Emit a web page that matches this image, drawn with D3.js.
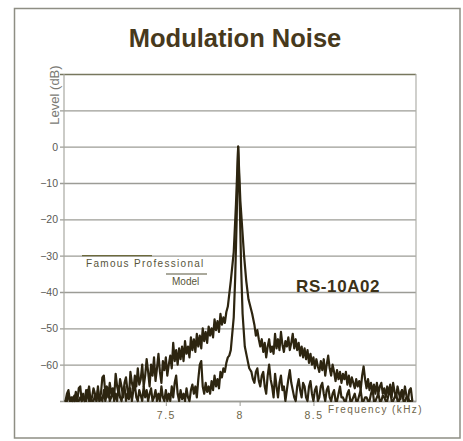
<!DOCTYPE html>
<html>
<head>
<meta charset="utf-8">
<script src="https://cdn.jsdelivr.net/npm/d3@7"></script>
<style>
  html, body { margin: 0; padding: 0; background: #ffffff; }
  svg { display: block; font-family: "Liberation Sans", Arial, Helvetica, sans-serif; }
</style>
</head>
<body>
<svg id="chart" width="463" height="441"></svg>
<script>
// Spectrum of an 8 kHz tone: level (dB) against frequency (kHz)
const gridLevels = [20, 10, 0, -10, -20, -30, -40, -50, -60, -70];
const labeledLevels = [0, -10, -20, -30, -40, -50, -60];
const freqTicks = [7.5, 8, 8.5];
const freqTickLabels = ["7.5", "8", "8.5"];

// analyser sweep: noise bins are 0.01 kHz apart
const binWidth = 0.01;

// Famous Professional Model
const famousLowStart = 6.82;
const famousLow = [
  -70, -68, -67, -70, -69, -70, -68.5, -70, -70, -66.5,
  -66, -70, -69, -70, -67, -68, -66, -70, -69, -66.5,
  -68, -70, -67, -70, -68, -63.5, -63, -68, -66, -69,
  -65, -68, -66.5, -69, -62.5, -66, -68, -64, -66, -69,
  -65, -63.5, -67, -69, -62, -65, -67, -63, -66, -61,
  -65.5, -64, -60, -66, -63, -58.5, -62, -66, -60, -63,
  -58, -64.5, -61, -57, -62, -65, -59, -61.5, -58, -63,
  -60, -57.5, -61, -54, -59, -56, -60, -55.5, -58.5, -55,
  -59, -53.5, -57, -55, -58, -52.5, -56, -53, -56.5, -51.5,
  -55, -52, -55.5, -50, -53.5, -51, -54, -49.5, -52, -50,
  -52.5, -47.5, -50.5, -48, -51, -46, -49, -47, -48.5, -45.5, -44
];
const famousPeakFreq = [7.94, 7.96, 7.975, 7.99, 8.005, 8.03, 8.045, 8.06, 8.085, 8.10, 8.11, 8.12, 8.13];
const famousPeakLevel = [-37, -29, -16, 0, -15, -30, -37, -42, -46, -49, -52, -50.5, -53];
const famousHighStart = 8.14;
const famousHigh = [
  -55, -53, -56.5, -54, -58, -55, -53, -56.5, -55, -57,
  -51.5, -55.5, -53, -56, -51, -54.5, -56.5, -53.5, -55, -52.5,
  -56, -54, -51.5, -55.5, -53, -56, -54, -57.5, -55, -58,
  -55.5, -58.5, -56, -59.5, -57, -60, -58, -61, -58.5, -60.5,
  -62, -59, -61.5, -58.5, -63, -60, -57.5, -61, -63, -60,
  -62, -64.5, -61.5, -64, -62, -65, -62.5, -64, -62, -65.5,
  -63, -66, -63.5, -65, -66.5, -64, -66, -64.5, -67, -63,
  -60.5, -64, -66.5, -64, -67, -65, -67.5, -65.5, -68, -65,
  -68, -66, -65, -68, -66.5, -69, -66, -68, -65.5, -69,
  -65, -67.5, -69, -66, -68, -69.5, -67, -69, -66, -68.5,
  -70, -67, -66.5, -70
];

// RS-10A02
const rsLowStart = 6.82;
const rsLow = [
  -70, -70, -68, -70, -70, -69, -70, -67.5, -70, -70,
  -69, -70, -68, -70, -70, -67, -70, -69, -70, -70,
  -68.5, -70, -66, -70, -69, -70, -67, -70, -68, -66.5,
  -70, -69, -67, -70, -68, -70, -66, -69, -70, -67.5,
  -66, -70, -68, -69.5, -66.5, -70, -67, -65.5, -69, -70,
  -67, -68.5, -70, -66, -69, -67, -70, -68, -66.5, -70,
  -69, -67, -70, -68, -70, -66, -69, -70, -67, -70,
  -68, -70, -66, -69, -65, -63, -68, -70, -67, -69.5,
  -68, -70, -66.5, -69, -70, -67, -65.5, -68, -66, -69,
  -64, -60, -59, -66, -68, -65, -67.5, -66, -68, -64.5,
  -67, -63, -66, -64, -66.5, -62, -63.5, -61, -62, -59.5, -58, -57.5
];
const rsPeakFreq = [7.94, 7.96, 7.97, 7.98, 7.99, 8.00, 8.01, 8.02, 8.035, 8.05, 8.065];
const rsPeakLevel = [-56, -47, -36, -20, 0, -14, -33, -46, -55, -58, -61];
const rsHighStart = 8.08;
const rsHigh = [
  -62, -64, -65, -62, -61, -64.5, -66, -63, -62, -66,
  -68, -63, -60, -64, -66, -69, -62.5, -66, -69, -65,
  -63, -67, -66, -70, -67, -64, -61.5, -65, -67, -69,
  -70, -66, -64, -67, -69, -65, -66, -69, -70, -66,
  -64.5, -68, -70, -67, -66, -70, -69, -66, -65, -68,
  -70, -67, -66, -69, -70, -68, -67, -70, -70, -68,
  -66, -69, -69, -70, -70, -68, -67, -70, -70, -69,
  -68, -70, -70, -68.5, -67, -70, -70, -69, -69, -70,
  -70, -68, -66.5, -70, -70, -69, -68, -70, -70, -68.5,
  -69, -70, -70, -68, -67, -70, -70, -69, -68, -70,
  -70, -68, -67, -70, -70, -69, -69, -70, -70
];

// join the swept bins and the finely read peak into one trace
function buildTrace(lowStart, low, peakFreq, peakLevel, highStart, high) {
  const pts = [];
  low.forEach((v, i) => pts.push([lowStart + i * binWidth, v]));
  peakFreq.forEach((f, i) => pts.push([f, peakLevel[i]]));
  high.forEach((v, i) => pts.push([highStart + i * binWidth, v]));
  return pts;
}

const svg = d3.select("#chart");
const plot = { left: 64, right: 416, top: 74, bottom: 401 };

const x = d3.scaleLinear().domain([6.81, 9.195]).range([plot.left, plot.right]);
const y = d3.scaleLinear().domain([-70, 20]).range([plot.bottom, plot.top]);

// outer frame
svg.append("rect")
  .attr("x", 14.5).attr("y", 8.5)
  .attr("width", 445.5).attr("height", 429.5)
  .attr("fill", "none")
  .attr("stroke", "#8e8e84")
  .attr("stroke-width", 1.5);

// title
svg.append("text")
  .attr("x", 235).attr("y", 47)
  .attr("text-anchor", "middle")
  .attr("font-size", 25.5)
  .attr("font-weight", "bold")
  .attr("fill", "#47391c")
  .text("Modulation Noise");

// horizontal grid with level labels
const yAxis = d3.axisLeft(y)
  .tickValues(gridLevels)
  .tickSizeInner(-(plot.right - plot.left + 4))
  .tickSizeOuter(0)
  .tickPadding(2)
  .tickFormat(d => labeledLevels.includes(d) ? (d < 0 ? "\u2212" + (-d) : "0") : "");

const gy = svg.append("g")
  .attr("transform", `translate(${plot.left - 4},0)`)
  .call(yAxis);
gy.select(".domain").remove();
gy.selectAll(".tick line")
  .attr("stroke", d => d === 20 ? "#77775e" : "#9c9c96")
  .attr("stroke-width", 1.3);
gy.selectAll(".tick text")
  .attr("fill", "#5a5a55")
  .attr("font-size", 10.5);

// left and right edges of the plot
svg.append("line")
  .attr("x1", plot.left).attr("x2", plot.left)
  .attr("y1", plot.top).attr("y2", plot.bottom)
  .attr("stroke", "#a8a8a2").attr("stroke-width", 1.2);
svg.append("line")
  .attr("x1", plot.right).attr("x2", plot.right)
  .attr("y1", plot.top).attr("y2", plot.bottom)
  .attr("stroke", "#b0b0aa").attr("stroke-width", 1.2);

// frequency axis
const xAxis = d3.axisBottom(x)
  .tickValues(freqTicks)
  .tickSizeInner(5)
  .tickSizeOuter(0)
  .tickPadding(6)
  .tickFormat((d, i) => freqTickLabels[i]);
const gx = svg.append("g")
  .attr("transform", `translate(0,${plot.bottom})`)
  .call(xAxis);
gx.select(".domain")
  .attr("stroke", "#9c9c96").attr("stroke-width", 1.3);
gx.selectAll(".tick line").attr("stroke", "#9c9c96");
gx.selectAll(".tick text")
  .attr("fill", "#6e6448")
  .attr("font-size", 10.5)
  .attr("letter-spacing", 1.5);

// axis titles
svg.append("text")
  .attr("transform", "translate(59,95) rotate(-90)")
  .attr("text-anchor", "middle")
  .attr("font-size", 13)
  .attr("fill", "#7a7a74")
  .text("Level (dB)");

svg.append("text")
  .attr("x", 328).attr("y", 413)
  .attr("font-size", 10)
  .attr("letter-spacing", 1.4)
  .attr("fill", "#6e6448")
  .text("Frequency (kHz)");

// traces
const line = d3.line()
  .x(d => x(d[0]))
  .y(d => y(d[1]));

const famous = buildTrace(famousLowStart, famousLow, famousPeakFreq, famousPeakLevel, famousHighStart, famousHigh);
const rs = buildTrace(rsLowStart, rsLow, rsPeakFreq, rsPeakLevel, rsHighStart, rsHigh);

const traces = svg.append("g").attr("fill", "none")
  .attr("stroke-linejoin", "round").attr("stroke-linecap", "round");
traces.append("path")
  .attr("d", line(rs))
  .attr("stroke", "#2d2510")
  .attr("stroke-width", 2.2);
traces.append("path")
  .attr("d", line(famous))
  .attr("stroke", "#2d2510")
  .attr("stroke-width", 2.2);

// series labels
svg.append("line")
  .attr("x1", 82).attr("x2", 152)
  .attr("y1", y(-30)).attr("y2", y(-30))
  .attr("stroke", "#6c6a3c").attr("stroke-width", 1.4);
svg.append("text")
  .attr("x", 86).attr("y", 267)
  .attr("font-size", 10)
  .attr("letter-spacing", 1.3)
  .attr("fill", "#57543a")
  .text("Famous Professional");
svg.append("line")
  .attr("x1", 166).attr("x2", 207)
  .attr("y1", 274).attr("y2", 274)
  .attr("stroke", "#57543a").attr("stroke-width", 1.2);
svg.append("text")
  .attr("x", 172).attr("y", 285)
  .attr("font-size", 10)
  .attr("fill", "#57543a")
  .text("Model");

svg.append("text")
  .attr("x", 296).attr("y", 292)
  .attr("font-size", 17)
  .attr("font-weight", "bold")
  .attr("letter-spacing", 0.6)
  .attr("fill", "#3c3118")
  .text("RS-10A02");
</script>
</body>
</html>
